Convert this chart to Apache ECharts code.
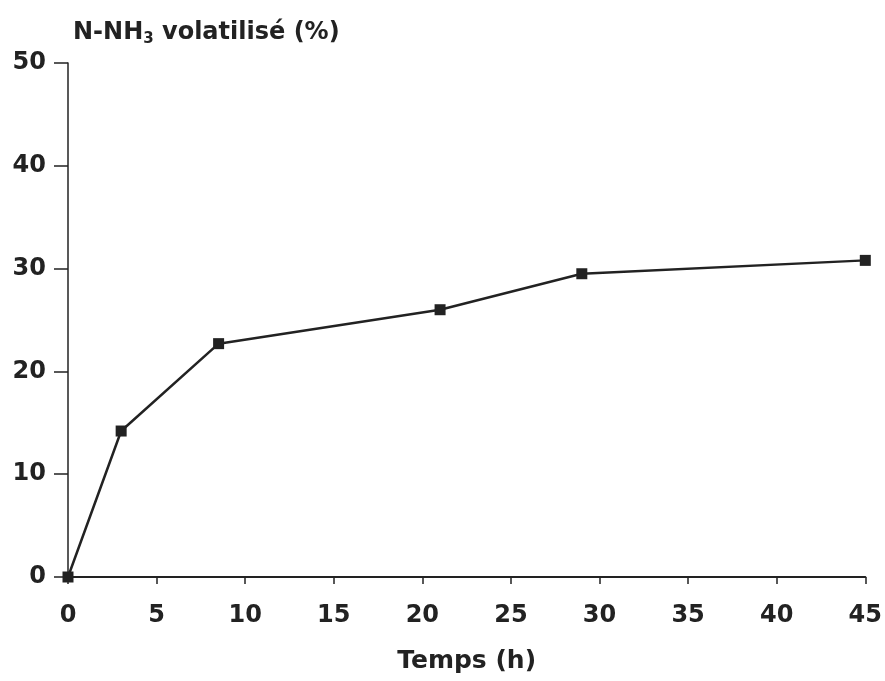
<!DOCTYPE html>
<html><head><meta charset="utf-8">
<script src="https://cdn.jsdelivr.net/npm/echarts@6/dist/echarts.min.js"></script>
<style>html,body{margin:0;padding:0;background:#fff}#c{width:885px;height:681px}</style>
</head><body><div id="c"></div>
<script>
const timeHours = [0, 3, 8.5, 21, 29, 45];
const volatilizedPct = [0, 14.2, 22.7, 26.0, 29.5, 30.8];
const xTicks = [0, 5, 10, 15, 20, 25, 30, 35, 40, 45];
const yTicks = [0, 10, 20, 30, 40, 50];

const FONT = '"DejaVu Sans", "Liberation Sans", Arial, sans-serif';
const ink = '#222';
const chart = echarts.init(document.getElementById('c'));
chart.setOption({
  backgroundColor: '#fff',
  animation: false,
  grid: { left: 68, right: 16, top: 63, bottom: 104 },
  title: {
    text: '{a|N-NH}{s|3}{a| volatilisé (%)}',
    left: 68, top: 13,
    textStyle: {
      rich: {
        a: { fontFamily: FONT, fontWeight: 'bold', fontSize: 24, color: ink },
        s: { fontFamily: FONT, fontWeight: 'bold', fontSize: 15, color: ink, verticalAlign: 'bottom', padding: [14, 0, 0, 0] }
      }
    }
  },
  xAxis: {
    type: 'value', min: 0, max: 45, interval: 5,
    name: 'Temps (h)', nameLocation: 'middle', nameGap: 72,
    nameTextStyle: { fontFamily: FONT, fontWeight: 'bold', fontSize: 25, color: ink },
    axisLine: { onZero: false, lineStyle: { color: ink, width: 2 } },
    axisTick: { show: true, length: 7, inside: false, lineStyle: { color: ink, width: 1.5 } },
    axisLabel: { fontFamily: FONT, fontWeight: 'bold', fontSize: 24, color: ink, margin: 27,
      formatter: v => xTicks.includes(v) ? String(v) : '' },
    splitLine: { show: false }
  },
  yAxis: {
    type: 'value', min: 0, max: 50, interval: 10,
    axisLine: { show: true, lineStyle: { color: ink, width: 1.5 } },
    axisTick: { show: true, length: 14, lineStyle: { color: ink, width: 1.5 } },
    axisLabel: { fontFamily: FONT, fontWeight: 'bold', fontSize: 24, color: ink, margin: 22,
      formatter: v => yTicks.includes(v) ? String(v) : '' },
    splitLine: { show: false }
  },
  series: [{
    type: 'line',
    data: timeHours.map((t, i) => [t, volatilizedPct[i]]),
    symbol: 'rect', symbolSize: 11,
    lineStyle: { color: ink, width: 2.5 },
    itemStyle: { color: ink },
    clip: false
  }]
});
</script></body></html>
